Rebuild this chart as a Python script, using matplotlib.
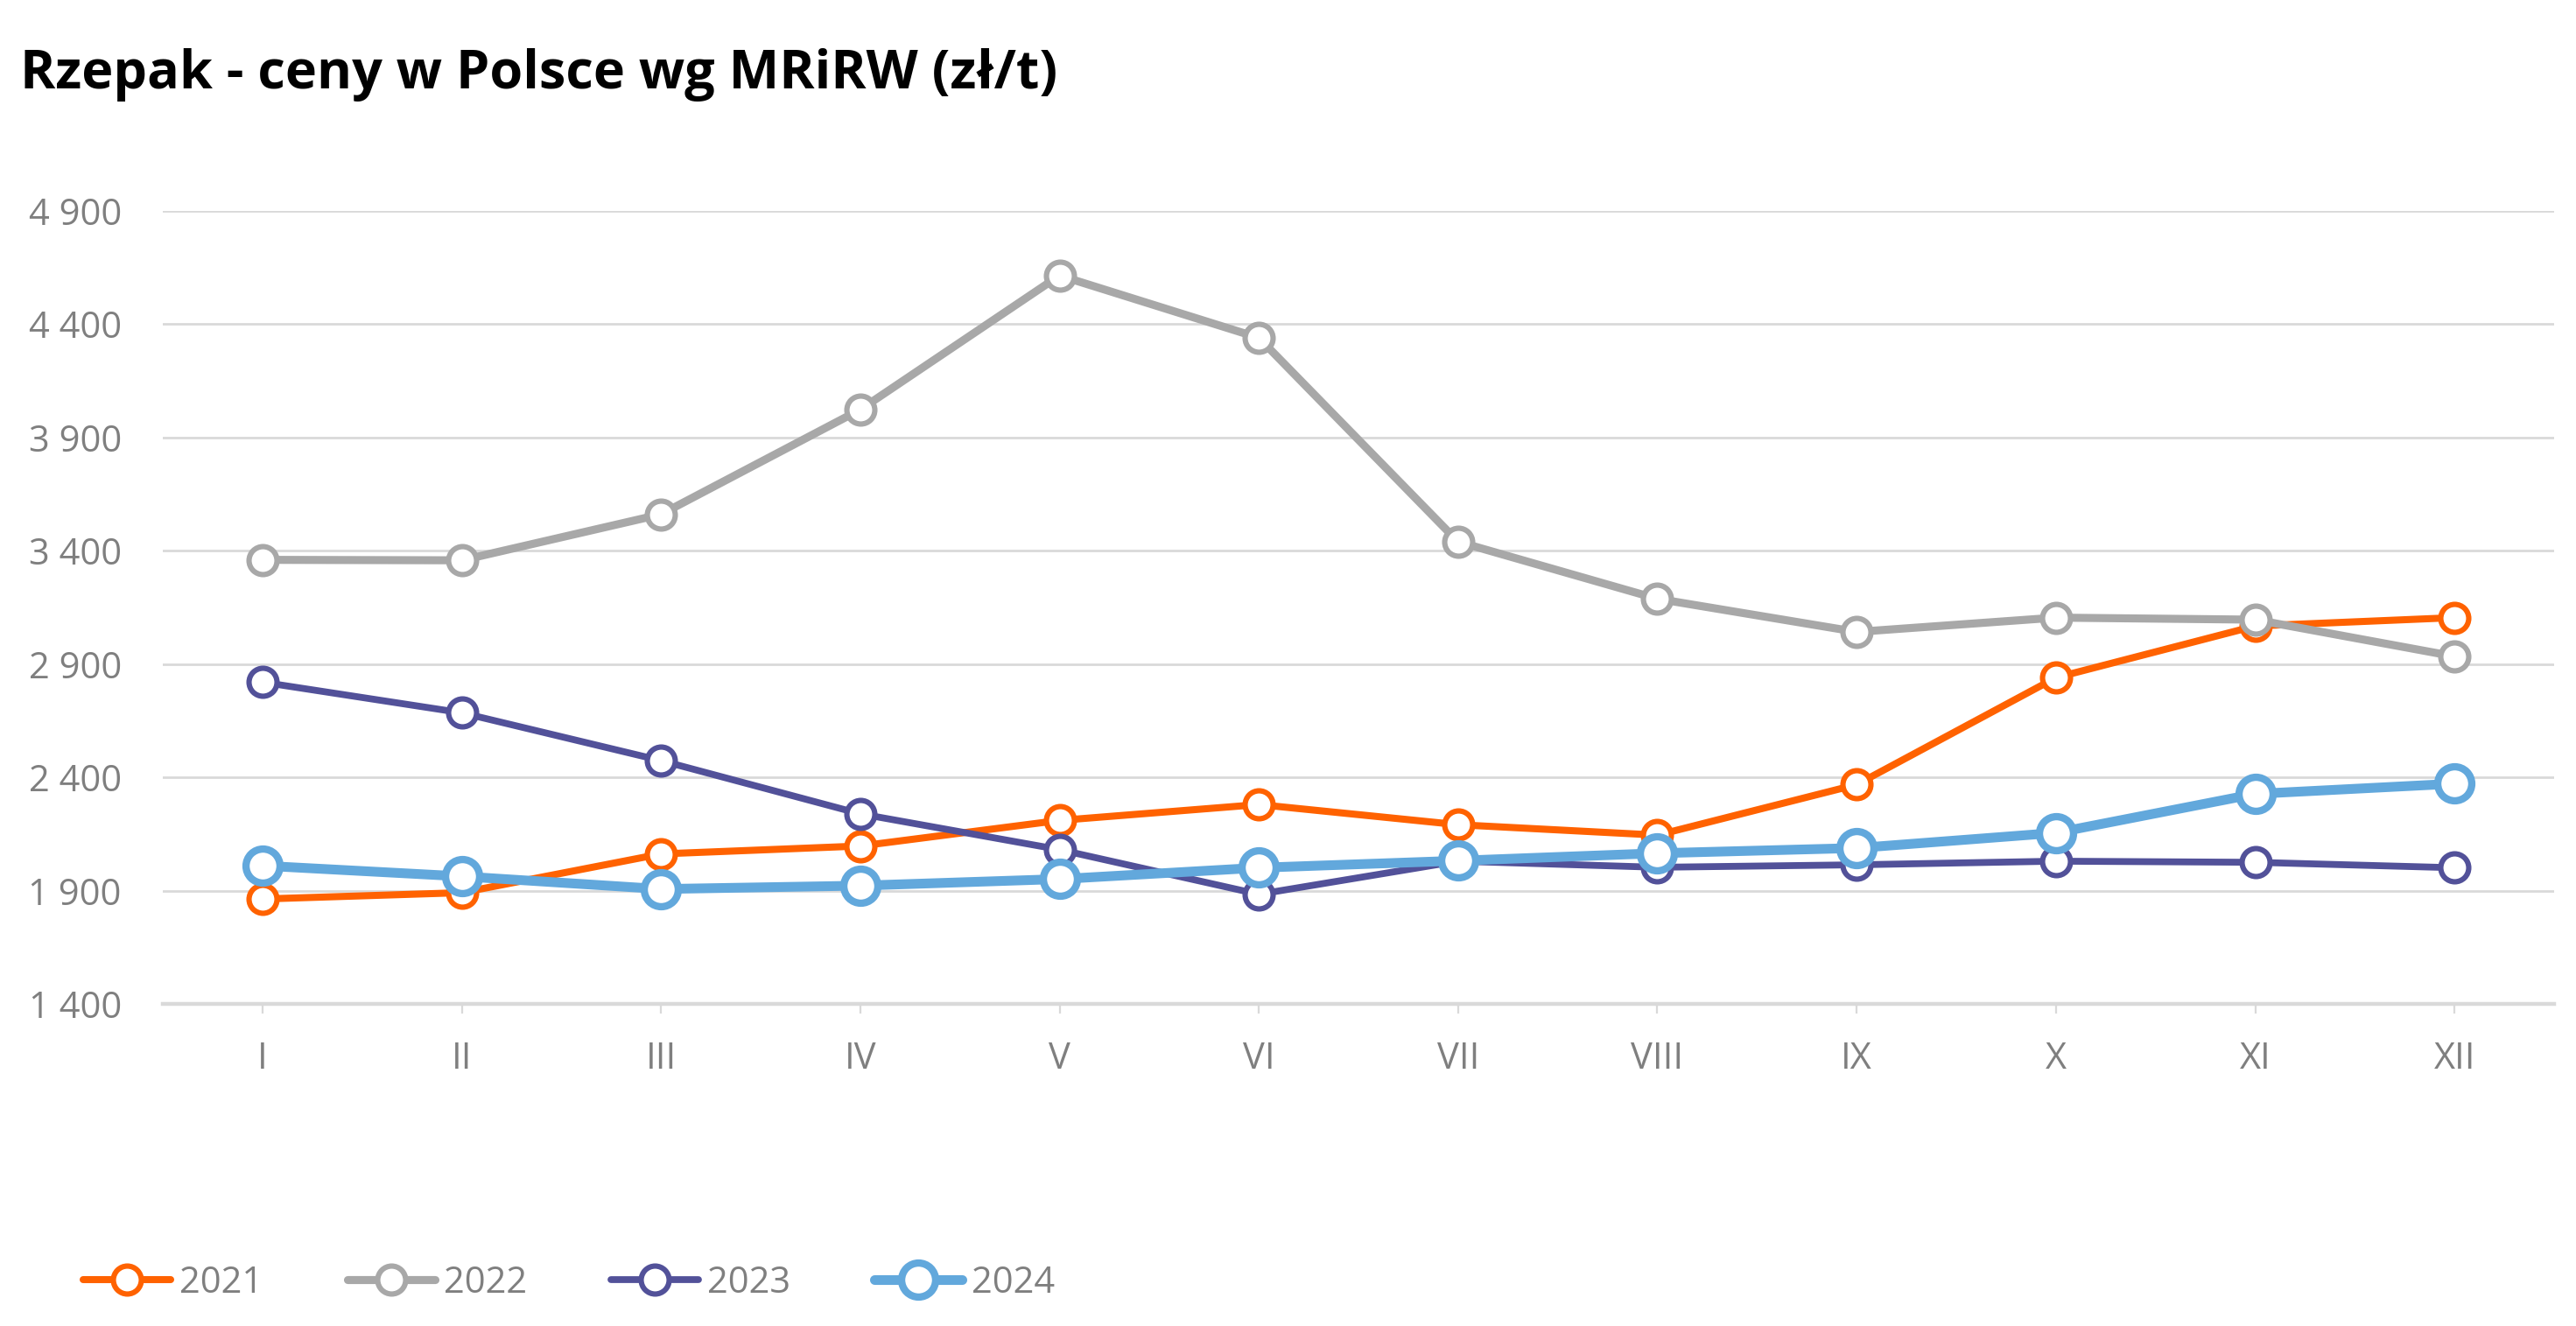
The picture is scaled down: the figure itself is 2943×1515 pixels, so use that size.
import matplotlib
matplotlib.use("Agg")
import matplotlib.pyplot as plt
from matplotlib.ticker import FuncFormatter

plt.rcParams['font.family'] = ['Open Sans', 'DejaVu Sans']

months = ["I", "II", "III", "IV", "V", "VI", "VII", "VIII", "IX", "X", "XI", "XII"]
y2021 = [1863, 1891, 2062, 2097, 2210, 2280, 2191, 2145, 2368, 2840, 3068, 3105]
y2022 = [3360, 3358, 3561, 4023, 4615, 4340, 3440, 3188, 3042, 3105, 3096, 2934]
y2023 = [2820, 2685, 2474, 2239, 2081, 1884, 2030, 2003, 2014, 2030, 2025, 2001]
y2024 = [2010, 1963, 1907, 1922, 1951, 2001, 2032, 2065, 2088, 2155, 2327, 2372]
yticks = [1400, 1900, 2400, 2900, 3400, 3900, 4400, 4900]

W, H = 2943, 1515
fig = plt.figure(figsize=(W / 200, H / 200), dpi=200)
ax = fig.add_axes([186 / W, 1 - 1147 / H, (2918 - 186) / W, (1147 - 241) / H])

x = list(range(len(months)))
series = [
    ("2021", y2021, "#FF6200", 2.9, 11.5, 2.2),
    ("2022", y2022, "#A8A8A8", 3.3, 11.5, 2.2),
    ("2023", y2023, "#525199", 2.8, 11.5, 2.2),
    ("2024", y2024, "#62A8DC", 4.0, 14.0, 3.0),
]
for lab, ys, col, lw, ms, mew in series:
    ax.plot(x, ys, color=col, lw=lw, marker='o', ms=ms, mfc='white',
            mec=col, mew=mew, label=lab, solid_joinstyle='round',
            solid_capstyle='round', zorder=3)

ax.set_xlim(-0.5, len(months) - 0.5)
ax.set_ylim(1400, 4900)
ax.set_yticks(yticks)
ax.yaxis.set_major_formatter(FuncFormatter(lambda v, p: f"{int(v):,}".replace(",", " ")))
ax.set_xticks(x)
ax.set_xticklabels(months)

for s in ['top', 'right', 'left']:
    ax.spines[s].set_visible(False)
ax.spines['bottom'].set_color('#D9D9D9')
ax.spines['bottom'].set_linewidth(1.6)
ax.grid(axis='y', color='#D9D9D9', lw=1.0, zorder=0)
ax.set_axisbelow(True)
ax.tick_params(axis='y', length=0, pad=17, labelsize=15, labelcolor='#7F7F7F')
ax.tick_params(axis='x', length=4, width=0.8, color='#D9D9D9', pad=11,
               labelsize=15, labelcolor='#7F7F7F')

fig.text(23 / W, 1 - 85 / H, "Rzepak - ceny w Polsce wg MRiRW (zł/t)",
         fontsize=22, fontweight='bold', color='black', va='center', ha='left')

leg = ax.legend(loc='center left', bbox_to_anchor=(95 / W, 1 - 1466 / H),
                bbox_transform=fig.transFigure, ncol=4, frameon=False,
                handlelength=2.4, handletextpad=0.25, columnspacing=2.3,
                fontsize=15, labelcolor='#7F7F7F', borderaxespad=0,
                borderpad=0)

fig.savefig("out.png", dpi=200, facecolor='white')
